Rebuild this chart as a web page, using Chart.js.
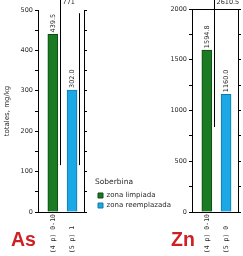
<!DOCTYPE html>
<html><head><meta charset="utf-8">
<script src="https://cdn.jsdelivr.net/npm/chart.js@4"></script>
<style>
html,body{margin:0;padding:0;background:#fff;width:243px;height:256px;overflow:hidden}
body{position:relative}
#ca{position:absolute;left:0;top:0}
#cz{position:absolute;left:150px;top:0}
.el{position:absolute;color:#cf1f25;font:bold 19.5px "Liberation Sans",Arial,sans-serif;line-height:19.5px}
</style></head><body>
<canvas id="ca" width="181" height="256"></canvas>
<canvas id="cz" width="93" height="256"></canvas>
<div class="el" style="left:11px;top:230px">As</div>
<div class="el" style="left:171px;top:230px">Zn</div>
<script>
// ---- data ----
const seriesNames = ['zona limpiada', 'zona reemplazada'];
const categoriesAs = ['(4 p) 0-10', '(5 p) 1'];
const categoriesZn = ['(4 p) 0-10', '(5 p) 0'];
const asValues = [439.5, 302.0];
const znValues = [1594.8, 1160.0];
const asRangeLow = [116, 116];
const asRangeHigh = [771, 492];
const znRangeLow = [837, null];
const znRangeHigh = [2610.5, null];
const asTickLabels = [0, 100, 200, 300, 400, 500];
const znTickLabels = [0, 500, 1000, 1500, 2000];
const yTitle = 'totales, mg/kg';
const legendTitle = 'Soberbina';

// ---- styles ----
const FONT = '"DejaVu Sans", sans-serif';
const MONO = '"DejaVu Sans Mono", monospace';
const TXT = '#2a2a2a';
const barColors = ['#1b7b22', '#1aa8e6'];
const barEdges = ['#0f4a13', '#1479a8'];

function padLabel(cats, v) {
  const n = Math.max(...cats.map(c => c.length));
  const s = cats[Math.round(v)];
  return s === undefined ? '' : s.padEnd(n, ' ');
}

const overlay = {
  id: 'overlay',
  afterDatasetsDraw(chart, args, opts) {
    const ctx = chart.ctx, ys = chart.scales.y, top = chart.chartArea.top;
    chart.data.datasets.forEach((ds, di) => {
      const bar = chart.getDatasetMeta(di).data[0];
      const v = ds.data[0].y;
      ctx.save();
      ctx.translate(bar.x, bar.y - 2);
      ctx.rotate(-Math.PI / 2);
      ctx.font = '6.5px ' + FONT;
      ctx.fillStyle = TXT;
      ctx.textAlign = 'left';
      ctx.textBaseline = 'middle';
      ctx.fillText(v.toFixed(1), 0, 0);
      ctx.restore();
      const lo = opts.low[di], hi = opts.high[di];
      if (lo != null && hi != null) {
        const x = Math.round(bar.x + bar.width / 2 + 2) + 0.5;
        const yl = ys.getPixelForValue(lo), yhRaw = ys.getPixelForValue(hi);
        const yh = Math.max(0, yhRaw);
        ctx.save();
        ctx.strokeStyle = '#000';
        ctx.lineWidth = 1;
        ctx.beginPath(); ctx.moveTo(x, yl); ctx.lineTo(x, yh); ctx.stroke();
        if (yhRaw < top) {
          ctx.font = '6.5px ' + FONT;
          ctx.fillStyle = TXT;
          ctx.textAlign = 'left';
          ctx.textBaseline = 'top';
          ctx.fillText(hi.toFixed(opts.dec), x + 2, -1);
        }
        ctx.restore();
      }
    });
  }
};

const fixLegend = {
  id: 'fixLegend',
  beforeLayout(chart, args, opts) {
    const lg = chart.legend;
    if (lg && !lg._fx && opts.width) {
      const f = lg.fit.bind(lg);
      lg.fit = function () { f(); this.width = opts.width; };
      lg._fx = true;
    }
  }
};

function buildChart(el, cats, vals, low, high, dec, ymax, step, tickLabels, cfg) {
  const scales = {
    x: {
      type: 'linear', min: -0.77, max: 1.62, offset: false, stacked: true,
      afterBuildTicks: s => { s.ticks = cats.map((_, i) => ({ value: i })); },
      afterFit: s => { s.height = 44; },
      ticks: { autoSkip: false, minRotation: 90, maxRotation: 90, padding: 2,
        font: { family: MONO, size: 6.5 }, color: TXT, callback: v => padLabel(cats, v) },
      grid: { display: true, drawOnChartArea: false, drawTicks: false, color: '#000' },
      border: { display: true, color: '#000', width: 1 }
    },
    y: {
      position: 'left', min: 0, max: ymax,
      ticks: { stepSize: step, autoSkip: false, padding: 2, font: { family: FONT, size: 6.5 }, color: TXT,
        callback: v => tickLabels.includes(v) ? String(v) : '' },
      grid: { drawOnChartArea: false, drawTicks: true, tickLength: 3, color: '#000' },
      border: { color: '#000', width: 1 },
      title: { display: cfg.showTitle, text: yTitle, font: { family: FONT, size: 7 }, color: TXT, padding: { top: 3, bottom: 0 } },
      afterFit: s => { s.width = cfg.yWidth; }
    },
    y2: {
      position: 'right', min: 0, max: ymax,
      ticks: { stepSize: step, autoSkip: false, padding: 0, callback: () => '' },
      grid: { drawOnChartArea: false, drawTicks: true, tickLength: 3, color: '#000' },
      border: { color: '#000', width: 1 },
      afterFit: s => { s.width = cfg.y2Width; }
    }
  };
  if (cfg.topBorder) {
    scales.xt = {
      type: 'linear', position: 'top', min: -0.77, max: 1.62,
      ticks: { display: false },
      grid: { display: true, drawOnChartArea: false, drawTicks: false, color: '#000' },
      border: { display: true, color: '#000', width: 1 },
      afterFit: s => { s.height = 0; }
    };
  }
  return new Chart(el, {
    type: 'bar',
    data: {
      datasets: seriesNames.map((n, i) => ({
        label: n,
        data: [{ x: i, y: vals[i] }],
        backgroundColor: barColors[i],
        borderColor: barEdges[i],
        borderWidth: 1,
        barThickness: 10,
        xAxisID: 'x', yAxisID: 'y'
      }))
    },
    options: {
      responsive: false, animation: false, events: [],
      layout: { padding: { top: cfg.top, left: 0, right: 0, bottom: 0 } },
      scales,
      plugins: {
        legend: cfg.legend ? {
          display: true, position: 'right', align: 'end', fullSize: false,
          title: { display: true, text: legendTitle, color: TXT, font: { family: FONT, size: 7.5 }, padding: { top: 0, bottom: 2 }, position: 'start' },
          labels: { boxWidth: 5, boxHeight: 5, padding: 3, color: TXT, font: { family: FONT, size: 7 } }
        } : { display: false },
        tooltip: { enabled: false },
        fixLegend: { width: cfg.legendWidth || 0 },
        overlay: { low, high, dec }
      }
    },
    plugins: [fixLegend, overlay]
  });
}

buildChart(document.getElementById('ca'), categoriesAs, asValues, asRangeLow, asRangeHigh, 0, 500, 50, asTickLabels,
  { showTitle: true, yWidth: 38, y2Width: 11, top: 10, legend: true, legendWidth: 86, topBorder: false });
buildChart(document.getElementById('cz'), categoriesZn, znValues, znRangeLow, znRangeHigh, 1, 2000, 250, znTickLabels,
  { showTitle: false, yWidth: 42, y2Width: 5, top: 9, legend: false, topBorder: true });
</script>
</body></html>
